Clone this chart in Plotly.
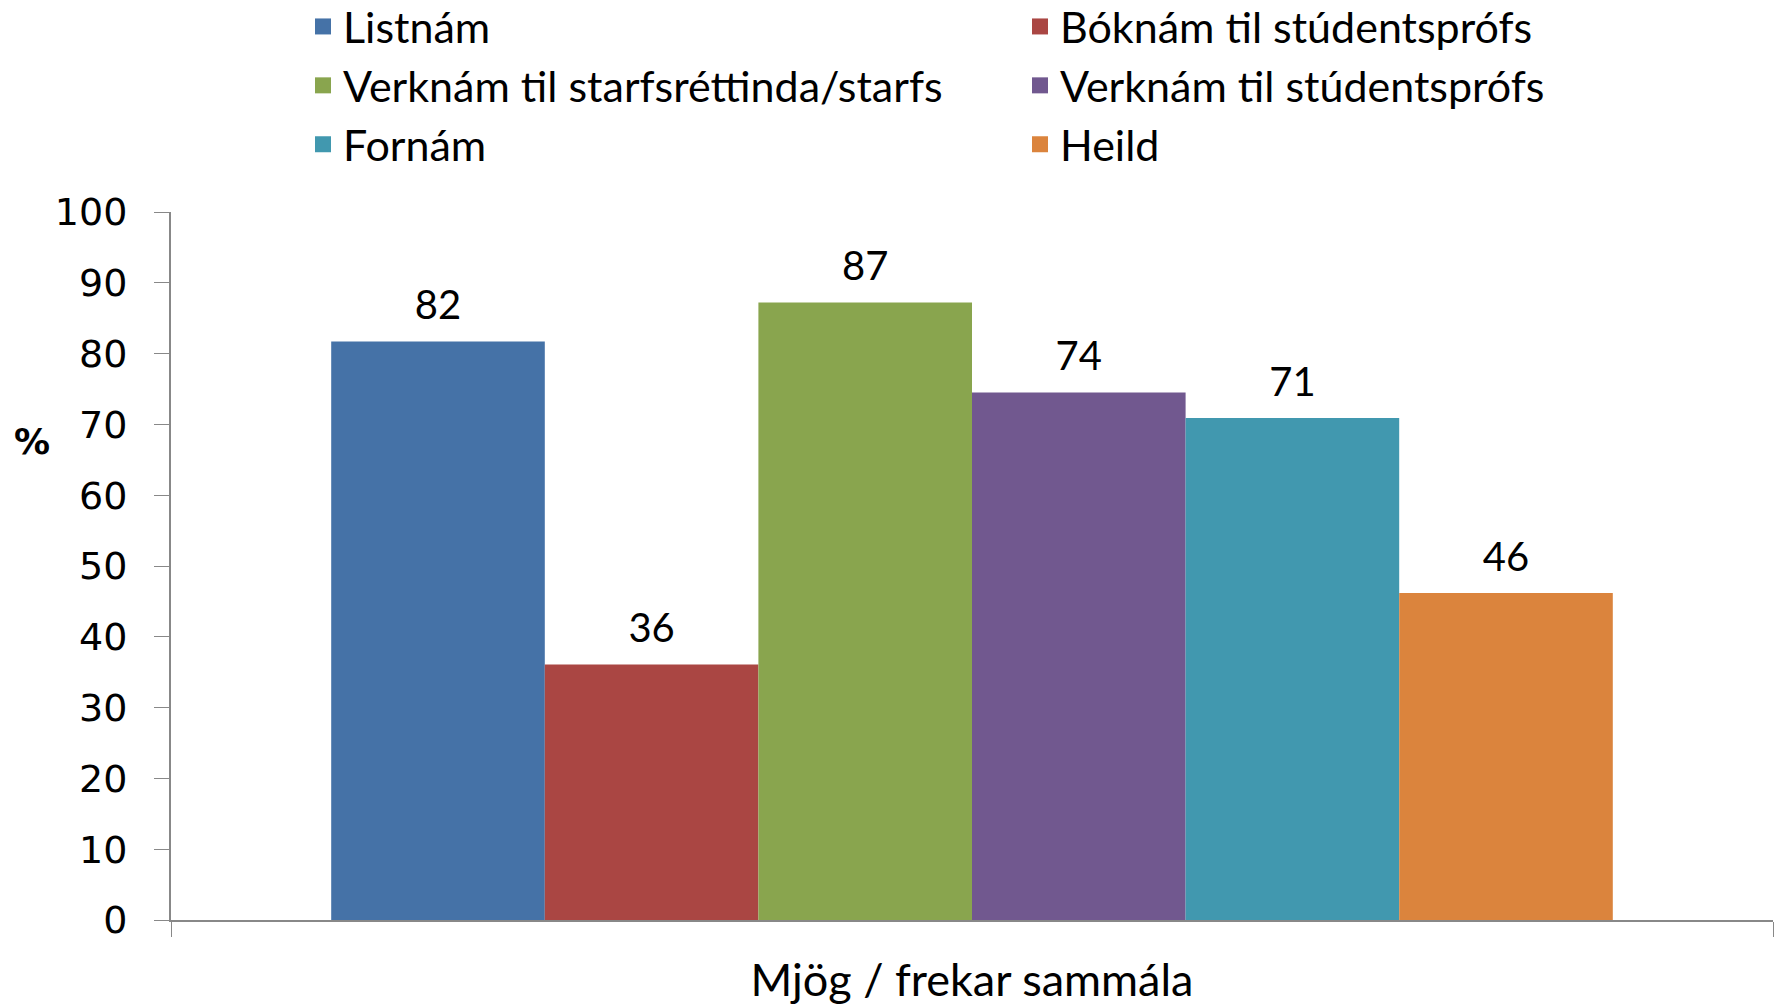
import plotly.graph_objects as go

category = ["Mjög / frekar sammála"]
series_names = ["Listnám", "Bóknám til stúdentsprófs", "Verknám til starfsréttinda/starfs",
                "Verknám til stúdentsprófs", "Fornám", "Heild"]
series_values = [81.7, 36.1, 87.2, 74.5, 70.9, 46.2]
series_labels = ["82", "36", "87", "74", "71", "46"]
colors = ["#4572A7", "#AA4643", "#89A54E", "#71588F", "#4198AF", "#DB843D"]
y_ticks = [0, 10, 20, 30, 40, 50, 60, 70, 80, 90, 100]

W, H = 1781, 1006
L, R, T, B = 171, 8, 212, 86
ph = H - T - B
pw = W - L - R

fig = go.Figure()
for name, val, col in zip(series_names, series_values, colors):
    fig.add_trace(go.Bar(
        x=category, y=[val], name=name, marker=dict(color=col, line=dict(width=0)),
        showlegend=False,
    ))

# value labels, grouped the same way as the bars
for name, val, lab in zip(series_names, series_values, series_labels):
    fig.add_trace(go.Scatter(
        x=category, y=[val], name=name, mode="markers+text", text=[lab],
        textposition="top center", cliponaxis=False,
        marker=dict(size=18, opacity=0),
        textfont=dict(family="Lato", size=40, color="black"),
        showlegend=False, hoverinfo="skip",
    ))

# legend-only entries (two columns), on hidden overlay axes
legend_ids = ["legend", "legend2", "legend", "legend2", "legend", "legend2"]
for name, col, lg in zip(series_names, colors, legend_ids):
    fig.add_trace(go.Scatter(
        x=[None], y=[None], mode="markers", name=name,
        marker=dict(symbol="square", size=26, color=col),
        legend=lg, showlegend=True, xaxis="x2", yaxis="y2",
    ))

leg_common = dict(orientation="v", xanchor="left", yanchor="top",
                  y=1 + (T + 8) / ph,
                  font=dict(family="Lato", size=43, color="black"),
                  bgcolor="rgba(0,0,0,0)", itemwidth=30, itemsizing="trace",
                  traceorder="normal")
fig.update_layout(
    width=W, height=H,
    margin=dict(l=L, r=R, t=T, b=B, autoexpand=False),
    paper_bgcolor="white", plot_bgcolor="white",
    barmode="group", bargap=0.2, bargroupgap=0,
    scattermode="group", scattergap=0.2,
    showlegend=True,
    legend=dict(x=(303 - L) / pw, **leg_common),
    legend2=dict(x=(1020 - L) / pw, **leg_common),
    xaxis=dict(type="category", showline=True, linecolor="#888888", linewidth=2,
               ticks="outside", tickson="boundaries", ticklen=15, tickcolor="#888888",
               tickfont=dict(family="Lato", size=45, color="black"), showgrid=False,
               ticklabelstandoff=20),
    yaxis=dict(range=[0, 100], tickvals=y_ticks, showline=True, linecolor="#888888", linewidth=2,
               ticks="outside", ticklen=15, tickcolor="#888888", showgrid=False, zeroline=False,
               tickfont=dict(family="DejaVu Sans", size=38, color="black"),
               ticklabelstandoff=19),
    xaxis2=dict(overlaying="x", visible=False),
    yaxis2=dict(overlaying="y", visible=False),
    font=dict(family="Lato", color="black"),
)
fig.add_annotation(text="<b>%</b>", xref="paper", yref="paper", x=(32 - L) / pw, y=(920 - 441) / ph,
                   showarrow=False, font=dict(family="DejaVu Sans", size=36, color="black"),
                   xanchor="center", yanchor="middle")

fig.write_html("out.html", config={"displayModeBar": False},
               post_script="document.body.style.margin='0px';"
                           "document.documentElement.style.overflow='hidden';")
